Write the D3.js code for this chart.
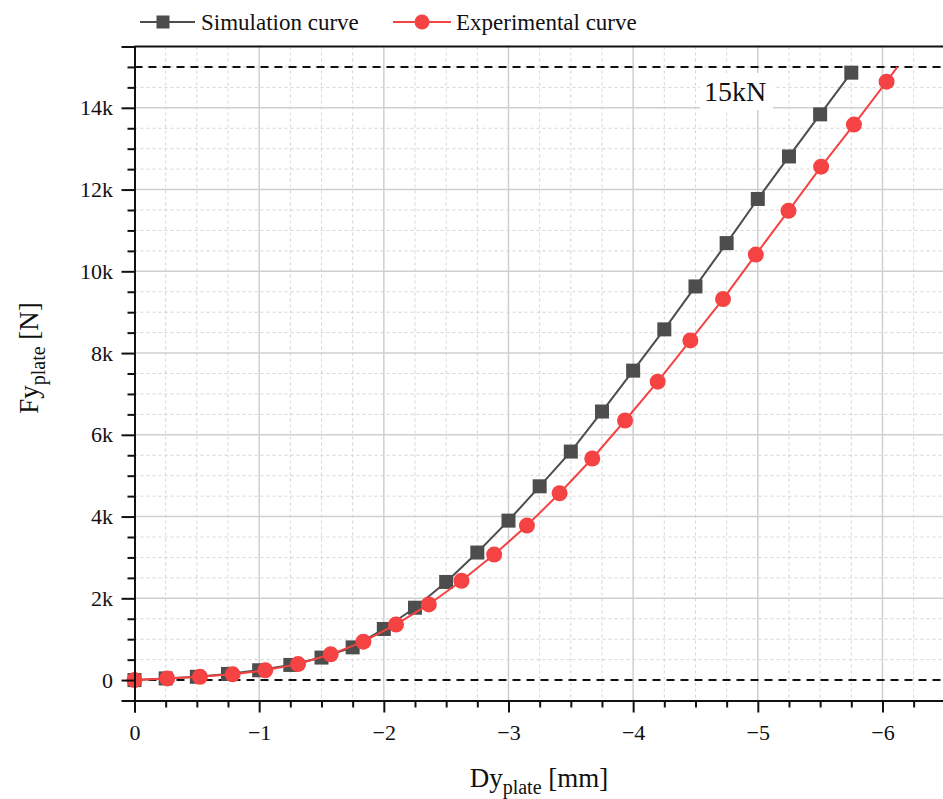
<!DOCTYPE html>
<html><head><meta charset="utf-8">
<script src="https://cdn.jsdelivr.net/npm/d3@7"></script>
<style>html,body{margin:0;padding:0;background:#fff;}svg{display:block;}</style>
</head><body>
<svg id="chart" width="943" height="799"></svg>
<script>
// ---- data ----
const simX = [0, -0.25, -0.5, -0.75, -1.0, -1.25, -1.5, -1.75, -2.0, -2.25, -2.5, -2.75, -3.0, -3.25, -3.5, -3.75, -4.0, -4.25, -4.5, -4.75, -5.0, -5.25, -5.5, -5.75];
const simY = [0, 40, 80, 150, 240, 370, 550, 800, 1250, 1770, 2400, 3120, 3900, 4740, 5590, 6570, 7570, 8580, 9630, 10690, 11770, 12810, 13840, 14860];
const expX = [0, -0.262, -0.525, -0.787, -1.049, -1.312, -1.574, -1.836, -2.098, -2.361, -2.623, -2.885, -3.148, -3.410, -3.672, -3.935, -4.197, -4.459, -4.721, -4.984, -5.246, -5.508, -5.771, -6.033];
const expY = [0, 40, 80, 140, 240, 390, 630, 940, 1360, 1850, 2430, 3070, 3780, 4570, 5420, 6350, 7300, 8310, 9320, 10410, 11480, 12560, 13590, 14640];
const expEnd = [-6.12, 15000];
const refLines = [0, 15000];
const xTicks = [0, -1, -2, -3, -4, -5, -6];
const xTickLabels = ["0", "\u22121", "\u22122", "\u22123", "\u22124", "\u22125", "\u22126"];
const yTicks = [0, 2000, 4000, 6000, 8000, 10000, 12000, 14000];
const yTickLabels = ["0", "2k", "4k", "6k", "8k", "10k", "12k", "14k"];
const seriesNames = ["Simulation curve", "Experimental curve"];
const refLabel = "15kN";

// ---- layout ----
const svg = d3.select("#chart");
const FONT = "'Liberation Serif', 'Times New Roman', serif";
const simColor = "#4d4d4d", expColor = "#f54343";
const pL = 134.5, pR = 944.8, pT = 46.5, pB = 700.5;
const x = d3.scaleLinear().domain([0, -6.5]).range([pL, pR]);
const y = d3.scaleLinear().domain([-500, 15500]).range([pB, pT]);

const xMinor = d3.range(0, 26).map(i => -i * 0.25);
const yMinor = d3.range(0, 32).map(i => -500 + i * 500);

// grid
const g = svg.append("g");
g.selectAll(".vminor").data(xMinor.filter(v => v % 1 !== 0)).join("line")
  .attr("x1", d => x(d)).attr("x2", d => x(d)).attr("y1", pT).attr("y2", pB)
  .attr("stroke", "#d4d4d4").attr("stroke-width", 1).attr("stroke-dasharray", "3,3");
g.selectAll(".hminor").data(yMinor.filter(v => v % 2000 !== 0)).join("line")
  .attr("y1", d => y(d)).attr("y2", d => y(d)).attr("x1", pL).attr("x2", pR)
  .attr("stroke", "#d4d4d4").attr("stroke-width", 1).attr("stroke-dasharray", "3,3");
g.selectAll(".vmajor").data(xTicks.slice(1)).join("line")
  .attr("x1", d => x(d)).attr("x2", d => x(d)).attr("y1", pT).attr("y2", pB)
  .attr("stroke", "#cfcfcf").attr("stroke-width", 1.5);
g.selectAll(".hmajor").data(yTicks.slice(1)).join("line")
  .attr("y1", d => y(d)).attr("y2", d => y(d)).attr("x1", pL).attr("x2", pR)
  .attr("stroke", "#cfcfcf").attr("stroke-width", 1.5);

// reference dashed lines
svg.selectAll(".ref").data(refLines).join("line")
  .attr("x1", pL).attr("x2", pR).attr("y1", d => y(d)).attr("y2", d => y(d))
  .attr("stroke", "#111").attr("stroke-width", 2).attr("stroke-dasharray", "8,6");

// 15kN label with white background
svg.append("rect").attr("x", 700).attr("y", 73).attr("width", 73).attr("height", 37).attr("fill", "#fff");
svg.append("text").attr("x", 735).attr("y", 101).attr("text-anchor", "middle")
  .attr("font-family", FONT).attr("font-size", 28).attr("fill", "#111").text(refLabel);

// curves
const line = d3.line().x(d => x(d[0])).y(d => y(d[1]));
const simPts = simX.map((v, i) => [v, simY[i]]);
const expPts = expX.map((v, i) => [v, expY[i]]);
svg.append("path").datum(simPts).attr("d", line).attr("fill", "none").attr("stroke", simColor).attr("stroke-width", 2);
svg.selectAll(".sq").data(simPts).join("rect")
  .attr("x", d => x(d[0]) - 7).attr("y", d => y(d[1]) - 7).attr("width", 14).attr("height", 14).attr("fill", simColor);
svg.append("path").datum(expPts.concat([expEnd])).attr("d", line).attr("fill", "none").attr("stroke", expColor).attr("stroke-width", 2);
svg.selectAll(".ci").data(expPts).join("circle")
  .attr("cx", d => x(d[0])).attr("cy", d => y(d[1])).attr("r", 8).attr("fill", expColor);

// axes
svg.append("line").attr("x1", pL).attr("x2", pR).attr("y1", pT).attr("y2", pT).attr("stroke", "#111").attr("stroke-width", 2);
const axB = svg.append("g").attr("transform", `translate(0,${pB})`)
  .call(d3.axisBottom(x).tickValues(xTicks).tickSize(12).tickFormat((d, i) => xTickLabels[i]));
const axBm = svg.append("g").attr("transform", `translate(0,${pB})`)
  .call(d3.axisBottom(x).tickValues(xMinor.filter(v => v % 1 !== 0)).tickSize(7).tickFormat(""));
const axL = svg.append("g").attr("transform", `translate(${pL},0)`)
  .call(d3.axisLeft(y).tickValues(yTicks).tickSize(13).tickFormat((d, i) => yTickLabels[i]));
const axLm = svg.append("g").attr("transform", `translate(${pL},0)`)
  .call(d3.axisLeft(y).tickValues(yMinor.filter(v => v % 2000 !== 0 && v > -500)).tickSize(7).tickFormat(""));
[axB, axBm, axL, axLm].forEach(a => {
  a.select(".domain").attr("stroke", "#111").attr("stroke-width", 2);
  a.selectAll(".tick line").attr("stroke", "#111").attr("stroke-width", 2);
  a.selectAll("text").attr("font-family", FONT).attr("font-size", 22).attr("fill", "#111");
});
axB.selectAll("text").attr("dy", "1.1em");
axL.selectAll("text").attr("dx", "-0.25em");

// axis titles
const xt = svg.append("text").attr("x", 539).attr("y", 787).attr("text-anchor", "middle")
  .attr("font-family", FONT).attr("font-size", 27).attr("fill", "#111");
xt.append("tspan").text("Dy");
xt.append("tspan").attr("font-size", 20).attr("dy", 7).text("plate");
xt.append("tspan").attr("dy", -7).text(" [mm]");
const yt = svg.append("text").attr("transform", "translate(38,358) rotate(-90)").attr("text-anchor", "middle")
  .attr("font-family", FONT).attr("font-size", 27).attr("fill", "#111");
yt.append("tspan").text("Fy");
yt.append("tspan").attr("font-size", 20).attr("dy", 7).text("plate");
yt.append("tspan").attr("dy", -7).text(" [N]");

// legend
const leg = svg.append("g");
leg.append("line").attr("x1", 140).attr("x2", 195).attr("y1", 22).attr("y2", 22).attr("stroke", simColor).attr("stroke-width", 2);
leg.append("rect").attr("x", 163 - 6.5).attr("y", 22 - 6.5).attr("width", 13).attr("height", 13).attr("fill", simColor);
leg.append("text").attr("x", 201).attr("y", 30).attr("font-family", FONT).attr("font-size", 23).attr("fill", "#111").text(seriesNames[0]);
leg.append("line").attr("x1", 393).attr("x2", 451).attr("y1", 22).attr("y2", 22).attr("stroke", expColor).attr("stroke-width", 2);
leg.append("circle").attr("cx", 422).attr("cy", 22).attr("r", 7.5).attr("fill", expColor);
leg.append("text").attr("x", 456).attr("y", 30).attr("font-family", FONT).attr("font-size", 23).attr("fill", "#111").text(seriesNames[1]);
</script>
</body></html>
